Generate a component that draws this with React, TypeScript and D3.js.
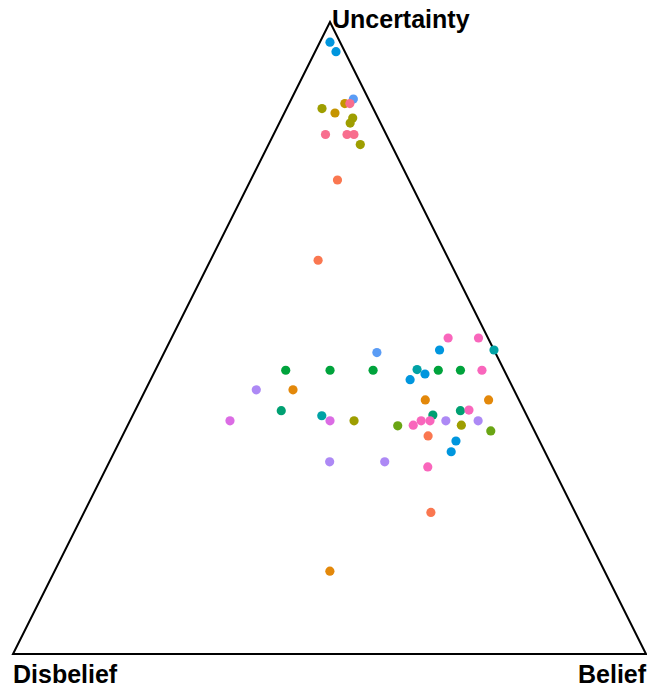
import React from "react";
import * as d3 from "d3";

const width = 647;
const height = 691;
// triangle corners in pixels
const corner = {
  disbelief: [13, 654],
  belief: [646, 654],
  uncertainty: [330, 22]
};

const groups = ["G1", "G2", "G3", "G4", "G5", "G6", "G7", "G8", "G9", "G10", "G11", "G12", "G13", "G14"];
const groupColors = [
  "#FA7750", "#E3880A", "#C59400", "#9E9E00", "#6AA514", "#00A33C", "#00A072",
  "#00A2A5", "#0096DE", "#5A9CF5", "#AD89F5", "#DB6CE4", "#F966BC", "#F86E8E"
];

const belief = [
  0.016, 0.033, 0.098, 0.096, 0.088, 0.056, 0.08, 0.112, 0.112, 0.082, 0.116, 0.127, 0.145, 0.137, 0.17,
  0.336, 0.437, 0.485, 0.433, 0.519, 0.206, 0.276, 0.344, 0.413, 0.447, 0.482, 0.516, 0.429, 0.41,
  0.175, 0.233, 0.45, 0.55, 0.231, 0.514, 0.527, 0.299, 0.474, 0.158, 0.316, 0.354, 0.46, 0.474,
  0.499, 0.55, 0.427, 0.451, 0.527, 0.578, 0.483, 0.531, 0.532, 0.348, 0.435, 0.507, 0.548, 0.435
];
const disbelief = [
  0.016, 0.014, 0.024, 0.033, 0.041, 0.081, 0.064, 0.04, 0.048, 0.096, 0.062, 0.051, 0.049, 0.113, 0.207,
  0.187, 0.063, 0.015, 0.086, 0.0, 0.345, 0.275, 0.207, 0.137, 0.104, 0.069, 0.035, 0.128, 0.156,
  0.407, 0.349, 0.148, 0.048, 0.384, 0.101, 0.087, 0.324, 0.148, 0.473, 0.315, 0.277, 0.171, 0.157,
  0.132, 0.081, 0.212, 0.187, 0.111, 0.069, 0.172, 0.132, 0.148, 0.348, 0.261, 0.197, 0.228, 0.434
];
const uncertainty = [
  0.968, 0.953, 0.878, 0.871, 0.871, 0.863, 0.856, 0.848, 0.84, 0.822, 0.822, 0.822, 0.806, 0.75, 0.623,
  0.477, 0.5, 0.5, 0.481, 0.481, 0.449, 0.449, 0.449, 0.45, 0.449, 0.449, 0.449, 0.443, 0.434,
  0.418, 0.418, 0.402, 0.402, 0.385, 0.385, 0.386, 0.377, 0.378, 0.369, 0.369, 0.369, 0.369, 0.369,
  0.369, 0.369, 0.361, 0.362, 0.362, 0.353, 0.345, 0.337, 0.32, 0.304, 0.304, 0.296, 0.224, 0.131
];
const group = [
  8, 8, 9, 13, 2, 3, 2, 3, 3, 13, 13, 13, 3, 0, 0,
  9, 12, 12, 8, 7, 5, 5, 5, 7, 5, 5, 12, 8, 8,
  10, 1, 1, 1, 6, 6, 12, 7, 6, 11, 11, 3, 12, 12,
  10, 10, 4, 12, 3, 4, 0, 8, 8, 10, 10, 12, 0, 1
];

const App = () => {
  const color = d3.scaleOrdinal<number, string>().domain(d3.range(groups.length)).range(groupColors);

  // uncertainty drives height, belief/uncertainty drive horizontal position
  const yScale = d3.scaleLinear().domain([0, 1]).range([corner.disbelief[1], corner.uncertainty[1]]);
  const bScale = d3.scaleLinear().domain([0, 1]).range([0, corner.belief[0] - corner.disbelief[0]]);
  const uScale = d3.scaleLinear().domain([0, 1]).range([0, corner.uncertainty[0] - corner.disbelief[0]]);

  const points = belief
    .map((b, i) => {
      const total = b + disbelief[i] + uncertainty[i];
      const bn = b / total;
      const un = uncertainty[i] / total;
      return {
        x: corner.disbelief[0] + bScale(bn) + uScale(un),
        y: yScale(un),
        g: group[i]
      };
    })
    .sort((a, b) => a.g - b.g);

  const outline = d3.line()([corner.disbelief, corner.belief, corner.uncertainty] as [number, number][]) + "Z";

  return (
    <svg
      width={width}
      height={height}
      style={{ position: "absolute", left: 0, top: 0, background: "#fff" }}
      fontFamily="'Liberation Sans', Arial, sans-serif"
    >
      <path d={outline} fill="none" stroke="#000" strokeWidth={2} strokeLinejoin="miter" />
      <g>
        {points.map((p, i) => (
          <circle key={i} cx={p.x} cy={p.y} r={4.6} fill={color(p.g)} />
        ))}
      </g>
      <text x={332} y={28} fontSize={25} fontWeight="bold" fill="#000">
        Uncertainty
      </text>
      <text x={13} y={683} fontSize={25} fontWeight="bold" fill="#000">
        Disbelief
      </text>
      <text x={578} y={683} fontSize={25} fontWeight="bold" fill="#000">
        Belief
      </text>
    </svg>
  );
};

export default App;
